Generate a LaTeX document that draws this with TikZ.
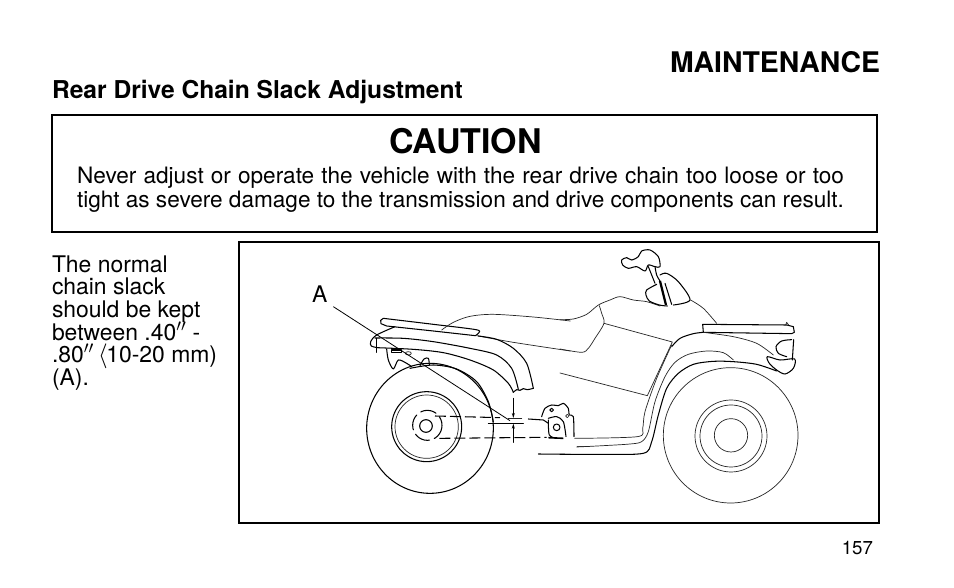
\documentclass[tikz,border=0pt]{standalone}
\usepackage{fontspec}
\usetikzlibrary{arrows.meta}
\setmainfont{TeX Gyre Heros}
\begin{document}
\begin{tikzpicture}[x=1pt,y=-1pt,
  txt/.style={inner sep=0pt,outer sep=0pt,text=black},
  frameline/.style={draw=black,line width=1.4pt,inner sep=0pt,outer sep=0pt,rectangle},
  art/.style={draw=black!85,line width=0.7pt,line join=round,line cap=round},
  artb/.style={draw=black,line width=1.05pt,line join=round,line cap=round},
  artd/.style={draw=black,line width=1.05pt,dash pattern=on 11pt off 4pt},
  dimtip/.style={-{Stealth[length=5pt,width=3pt]}}]
\useasboundingbox[fill=white] (0,0) rectangle (954,588);
\node[txt,anchor=base east,font=\bfseries\fontsize{28.4}{30}\selectfont] (title) at (880,73) {MAINTENANCE};
\node[txt,anchor=base west,font=\bfseries\fontsize{24.6}{25}\selectfont] (sub) at (52,99) {Rear Drive Chain Slack Adjustment};
\node[frameline,minimum width=825pt,minimum height=117pt] (cbox) at (464.5,173.5) {};
\node[txt,anchor=base,font=\bfseries\fontsize{34}{40}\selectfont] (caution) at (465.5,154) {CAUTION};
\node[txt,anchor=base west,font=\fontsize{22.6}{25}\selectfont] (warn1) at (77,183.5) {\makebox[767pt][s]{Never adjust or operate the vehicle with the rear drive chain too loose or too}};
\node[txt,anchor=base west,font=\fontsize{22.6}{25}\selectfont] (warn2) at (77,208) {\makebox[767pt][s]{tight as severe damage to the transmission and drive components can result.}};
\node[txt,anchor=north west,align=left,font=\fontsize{22.9}{22.7}\selectfont] (para) at (52,255.5) {The normal\\chain slack\\should be kept\\between .40\smash{$''$} -\\.80\smash{$''$}\hspace{-2pt} \smash{$\langle$}\hspace{-1.5pt}10-20 mm)\\(A).};
\node[frameline,minimum width=640pt,minimum height=281pt] (pbox) at (559,382.5) {};
\node[txt,anchor=base west,font=\fontsize{22.9}{25}\selectfont] (A) at (312,303) {A};
\node[txt,anchor=base east,font=\fontsize{18.7}{20}\selectfont] (page) at (873,554) {157};

% ---- rear half, coordinates of the 3x crop at (300,245)
\begin{scope}[shift={(300,245)},scale=1/3]
\coordinate (leadstart) at (100,185);
\coordinate (leadend) at (630,527);
\draw[artb] (390,550) ellipse[x radius=190,y radius=195];
\draw[artb] (380,545) circle[radius=105];
\draw[art] (380,545) circle[radius=95];
\draw[artb] (378,543) circle[radius=19];
\draw[artb,dash pattern=on 16pt off 5pt] (382,541) ellipse[x radius=44,y radius=45];
% rack
\draw[artb] plot[smooth] coordinates {(250,220)(400,238)(528,254)(536,264)(526,272)} -- (400,258) -- (260,243) -- (243,236) -- (242,226) -- cycle;
% seat line
\draw[art] plot[smooth] coordinates {(425,255)(460,232)(510,214)(580,208)(700,216)(811,228)};
\draw[art] plot[smooth] coordinates {(530,272)(640,292)(811,318)};
% fender
\draw[artb] plot[smooth] coordinates {(232,308)(214,303)(212,290)(230,270)(285,245)};
\draw[artb] plot[smooth] coordinates {(225,279)(310,280)(400,290)(510,310)(590,330)(635,370)(655,433)};
\draw[artb] plot[smooth] coordinates {(535,273)(590,283)(640,310)(680,355)(700,430)};
\draw[artb] plot[smooth] coordinates {(640,442)(650,434)(660,436)(670,431)(682,434)(700,430)};
\draw[artb] plot[smooth] coordinates {(230,308)(340,313)(430,323)(510,345)(580,375)(625,415)(640,442)};
\draw[artb] (229,280) -- (229,322);
% under-fender parts
\draw[artb] plot[smooth] coordinates {(260,312)(265,345)(280,372)(295,345)(320,355)(335,365)};
\draw[artb] plot[smooth] coordinates {(330,370)(400,360)(470,372)(530,410)(565,470)(580,530)};
\draw[artb] (275,315) rectangle (305,323);
\draw[art] (325,325) ellipse[x radius=9,y radius=5];
\draw[artb] plot[smooth] coordinates {(360,362)(372,342)(385,340)(388,360)};
% swingarm
\draw[artd] (405,513) -- (600,518);
\draw[artd] (418,580) -- (740,577);
\draw[artb] (685,522) -- (730,525) -- (745,535);
\draw[line width=1.6pt] (745,578) -- (790,580);
% dimension
\draw[artb] (565,535) -- (670,535);
\draw[artb,dimtip] (640,460) -- (640,519);
\draw[art] (625,520) -- (665,520);
\draw[artb,dimtip] (640,592) -- (640,536);
% bracket
\draw[artb] plot[smooth] coordinates {(725,515)(735,490)(755,480)(775,482)(790,475)(805,490)(808,510)(820,515)(822,575)};
\draw[artb] plot[smooth] coordinates {(745,520)(770,515)(790,530)(798,575)};
\draw[artb] plot[smooth] coordinates {(745,525)(748,570)(770,580)};
\draw[artb] (755,495) circle[radius=5.5];
\draw[art] (802,513) circle[radius=5];
\draw[artb] (770,547) circle[radius=10];
\draw[line width=1.3pt,draw=black!70] (830,605) -- (870,605);
\draw[artb] (715,627) -- (811,628);
\end{scope}

% ---- front half, coordinates of the 3x crop at (560,245)
\begin{scope}[shift={(560,245)},scale=1/3]
\draw[art] (512,571) ellipse[x radius=202,y radius=203];
\draw[art] (513,573) circle[radius=108];
\draw[art] (513,573) circle[radius=93];
\draw[art] (513,571) circle[radius=50];
% tank and seat
\draw[art] plot[smooth] coordinates {(0,224)(40,222)(80,208)(115,180)(150,165)(180,155)(220,165)(260,170)(300,183)};
\draw[art] plot[smooth] coordinates {(118,182)(125,205)(132,235)(105,280)(85,310)(65,322)(0,312)};
\draw[art] (132,235) -- (337,291) -- (262,452) -- (0,384);
\draw[art] plot[smooth] coordinates {(392,165)(430,190)(470,235)};
% handlebar
\draw[artb] plot[smooth] coordinates {(290,118)(260,135)(258,150)(268,168)(298,180)(322,183)};
\draw[artb] plot[smooth] coordinates {(300,90)(320,85)(355,110)(390,165)(340,180)};
\draw[line width=2.2pt] (300,108) -- (318,180);
\draw[artb] (315,115) -- (335,178);
\draw[artb] plot[smooth cycle] coordinates {(185,45)(200,38)(215,45)(235,35)(245,18)(270,15)(295,35)(300,65)(285,65)(265,60)(255,78)(230,65)(205,70)(188,60)};
\draw[artb] plot[smooth] coordinates {(265,65)(275,90)(285,115)};
\draw[artb] plot[smooth] coordinates {(285,65)(290,90)(300,108)};
% front rack
\draw[artb] (428,238) -- (680,240) -- (700,245) -- (703,262) -- (695,266) -- (430,262) -- cycle;
\draw[art] (677,240) -- (680,232) -- (686,240);
% headlights
\draw[artb] plot[smooth] coordinates {(695,284)(665,288)(648,305)(655,325)(680,335)};
\draw[artb] (701,284) -- (697,345);
\draw[artb] plot[smooth cycle] coordinates {(622,335)(660,345)(704,342)(700,370)(675,387)(650,375)(628,355)};
% fender and floor
\draw[artb] plot[smooth] coordinates {(335,305)(360,280)(400,266)(430,262)};
\draw[art] plot[smooth] coordinates {(430,262)(520,275)(590,295)(640,330)};
\draw[art] plot[smooth] coordinates {(335,300)(290,400)(255,500)(248,550)(232,575)(44,580)};
\draw[art] plot[smooth] coordinates {(520,345)(490,323)(440,318)(385,328)(345,352)(315,395)(285,470)(265,560)(245,590)(210,597)(130,602)(50,606)};
\draw[artb] plot[smooth] coordinates {(650,378)(590,358)(520,350)(460,349)(400,358)(355,385)(320,430)(295,510)(275,590)(250,625)(120,628)(0,628)};
\end{scope}

\draw[line width=0.8pt,draw=black] (leadstart) -- (leadend);
\end{tikzpicture}
\end{document}
